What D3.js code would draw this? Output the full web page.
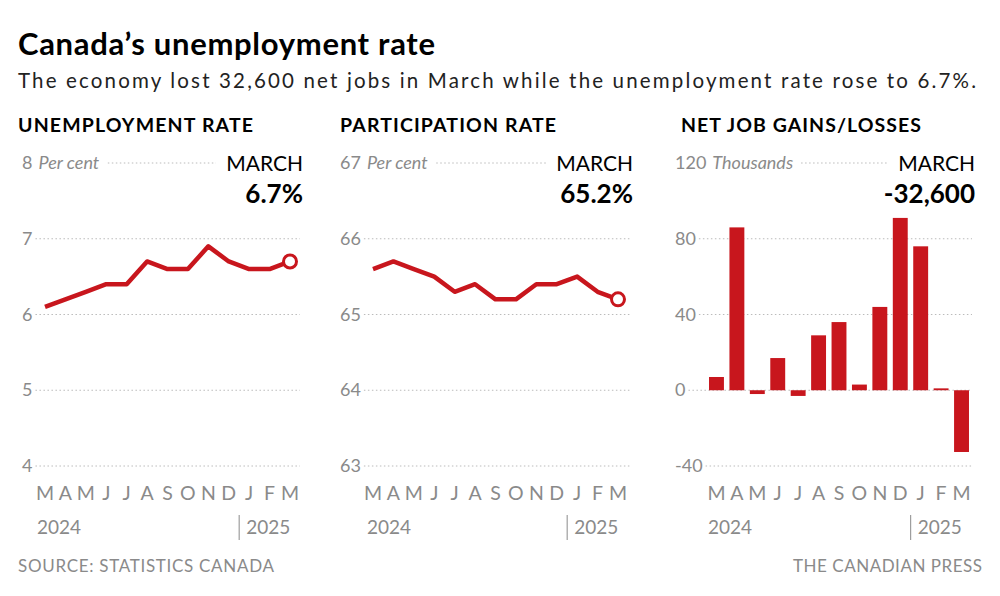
<!DOCTYPE html>
<html><head><meta charset="utf-8">
<script src="https://cdn.jsdelivr.net/npm/d3@7"></script>
<style>
body{margin:0;background:#fff;font-family:Lato,"Noto Sans",sans-serif;}
</style></head>
<body><svg id="c" width="1000" height="596"></svg>
<script>
const months = ['M','A','M','J','J','A','S','O','N','D','J','F','M'];
const unemployment = [6.1,6.2,6.3,6.4,6.4,6.7,6.6,6.6,6.9,6.7,6.6,6.6,6.7];
const participation = [65.6,65.7,65.6,65.5,65.3,65.4,65.2,65.2,65.4,65.4,65.5,65.3,65.2];
const jobs = [7,86,-2,17,-3,29,36,3,44,91,76,1,-32.6];
const unempTicks = [4,5,6,7,8];
const partTicks = [63,64,65,66,67];
const jobTicks = [-40,0,40,80,120];

const RED = '#c8161d', GREY = '#8a8a8a';
const svg = d3.select('#c');
svg.append('text').attr('x',18).attr('y',55).attr('font-size',31).attr('font-weight',700)
  .attr('textLength',417).text('Canada’s unemployment rate');
svg.append('text').attr('x',18).attr('y',88).attr('font-size',20.5).attr('fill','#222').attr('textLength',958)
  .text('The economy lost 32,600 net jobs in March while the unemployment rate rose to 6.7%.');
svg.append('text').attr('x',18).attr('y',572).attr('font-size',17).attr('fill',GREY).attr('textLength',256).text('SOURCE: STATISTICS CANADA');
svg.append('text').attr('x',793).attr('y',572).attr('font-size',17).attr('fill',GREY).attr('textLength',189).text('THE CANADIAN PRESS');

function panel(o) {
  const g = svg.append('g');
  g.append('text').attr('x',o.titleX).attr('y',132).attr('font-size',19.5).attr('font-weight',700)
    .attr('textLength',o.titleW).text(o.title);
  const y = d3.scaleLinear().domain([o.ticks[0], o.ticks[4]]).range([466,163]);
  o.ticks.forEach((t,i) => {
    const lab = g.append('text').attr('x',o.tickX).attr('y',y(t)+6).attr('font-size',18).attr('fill',GREY).text(t);
    let start = lab.node().getBBox().x + lab.node().getBBox().width + 3;
    let end = o.gridEnd;
    if (i === 4) {
      const u = g.append('text').attr('x',start+3).attr('y',y(t)+6).attr('font-size',18).attr('font-style','italic').attr('fill',GREY).text(o.unit);
      start = u.node().getBBox().x + u.node().getBBox().width + 8;
      end = o.gridEnd - 84;
    }
    g.append('line').attr('x1',start).attr('x2',end).attr('y1',y(t)).attr('y2',y(t))
      .attr('stroke','#bbb').attr('stroke-dasharray','1.5,2.5');
  });
  g.append('text').attr('x',o.gridEnd+3).attr('y',y(o.ticks[4])+8).attr('font-size',21).attr('text-anchor','end').text('MARCH');
  g.append('text').attr('x',o.gridEnd+3).attr('y',y(o.ticks[4])+40).attr('font-size',26).attr('font-weight',700).attr('text-anchor','end').text(o.last);
  g.selectAll('.m').data(months).join('text').attr('x',(d,i)=>o.x(i)).attr('y',500).attr('font-size',19.5)
    .attr('fill',GREY).attr('text-anchor','middle').text(d=>d);
  g.append('text').attr('x',o.yearX).attr('y',534).attr('font-size',19).attr('fill',GREY).text('2024');
  g.append('line').attr('x1',o.x(10)-10).attr('x2',o.x(10)-10).attr('y1',515).attr('y2',540).attr('stroke',GREY);
  g.append('text').attr('x',o.x(10)-3).attr('y',534).attr('font-size',19).attr('fill',GREY).text('2025');
  return {g,y};
}

function linePanel(o, data) {
  const x = d3.scalePoint().domain(d3.range(13)).range([o.x0, o.x0+245]);
  o.x = x;
  const {g,y} = panel(o);
  g.append('path').datum(data).attr('fill','none').attr('stroke',RED).attr('stroke-width',4.5)
    .attr('stroke-linejoin','round').attr('d',d3.line().x((d,i)=>x(i)).y(d=>y(d)));
  g.append('circle').attr('cx',x(12)).attr('cy',y(data[12])).attr('r',6.5).attr('fill','#fff').attr('stroke',RED).attr('stroke-width',3);
}

linePanel({title:'UNEMPLOYMENT RATE',titleX:18,titleW:235,yearX:37,x0:45,tickX:22,gridEnd:300,ticks:unempTicks,unit:'Per cent',last:'6.7%'}, unemployment);
linePanel({title:'PARTICIPATION RATE',titleX:340,titleW:216,yearX:367,x0:373,tickX:340,gridEnd:630,ticks:partTicks,unit:'Per cent',last:'65.2%'}, participation);

const xb = d3.scaleBand().domain(d3.range(13)).range([708,970]).paddingInner(0.27).paddingOuter(0.05);
const jb = {title:'NET JOB GAINS/LOSSES',titleX:681,titleW:240,yearX:708,tickX:675,gridEnd:972,ticks:jobTicks,unit:'Thousands',last:'-32,600',
  x: i => xb(i)+xb.bandwidth()/2};
const P = panel(jb);
P.g.selectAll('.b').data(jobs).join('rect').attr('x',(d,i)=>xb(i)).attr('width',xb.bandwidth())
  .attr('y',d=>P.y(Math.max(0,d))).attr('height',d=>Math.abs(P.y(d)-P.y(0))).attr('fill',RED);
</script></body></html>
